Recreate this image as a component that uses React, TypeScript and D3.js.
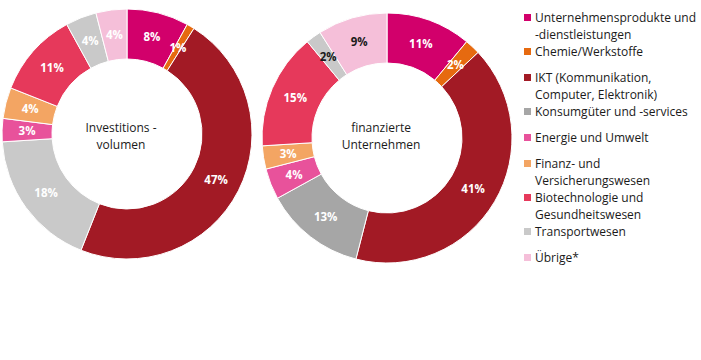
import { useEffect, useRef } from "react";
import * as d3 from "d3";

const categories = [
  "Unternehmensprodukte und -dienstleistungen",
  "Chemie/Werkstoffe",
  "IKT (Kommunikation, Computer, Elektronik)",
  "Konsumgüter und -services",
  "Energie und Umwelt",
  "Finanz- und Versicherungswesen",
  "Biotechnologie und Gesundheitswesen",
  "Transportwesen",
  "Übrige*",
];

const legendLines = [
  ["Unternehmensprodukte und", "-dienstleistungen"],
  ["Chemie/Werkstoffe"],
  ["IKT (Kommunikation,", "Computer, Elektronik)"],
  ["Konsumgüter und -services"],
  ["Energie und Umwelt"],
  ["Finanz- und", "Versicherungswesen"],
  ["Biotechnologie und", "Gesundheitswesen"],
  ["Transportwesen"],
  ["Übrige*"],
];

const colors = ["#d2006b", "#e66a10", "#a21a25", "#a6a6a6", "#e8529b", "#f3a563", "#e6395b", "#c9c9c9", "#f5bfd9"];
// left donut draws Konsumgüter in the light grey
const colorsInvest = ["#d2006b", "#e66a10", "#a21a25", "#c9c9c9", "#e8529b", "#f3a563", "#e6395b", "#c9c9c9", "#f5bfd9"];

const investVolume = [8, 1, 47, 18, 3, 4, 11, 4, 4];
const companies = [11, 2, 41, 13, 4, 3, 15, 2, 9];

const labelDarkInvest = [false, false, false, false, false, false, false, false, false];
const labelDarkCompanies = [false, false, false, false, false, false, false, true, true];

const FONT = "'Open Sans', sans-serif";

const App = () => {
  const ref = useRef<SVGSVGElement | null>(null);

  useEffect(() => {
    drawChart();
  }, []);

  const drawChart = () => {
    const svg = d3.select(ref.current);
    svg.selectAll("*").remove();

    const outerR = 125;
    const innerR = 75;

    const pie = d3
      .pie<number>()
      .sort(null)
      .value((d) => d);
    const arc = d3.arc<d3.PieArcDatum<number>>().innerRadius(innerR).outerRadius(outerR);

    const donuts = [
      { cx: 127, cy: 134, values: investVolume, fills: colorsInvest, dark: labelDarkInvest, title: ["Investitions -", "volumen"] },
      { cx: 387, cy: 138, values: companies, fills: colors, dark: labelDarkCompanies, title: ["finanzierte", "Unternehmen"] },
    ];
    const titleBaseline = 132;

    donuts.forEach((dn) => {
      const g = svg.append("g").attr("transform", `translate(${dn.cx},${dn.cy})`);
      const arcs = pie(dn.values);

      g.selectAll("path")
        .data(arcs)
        .join("path")
        .attr("d", arc)
        .attr("fill", (d, i) => dn.fills[i])
        .attr("stroke", "#fff")
        .attr("stroke-width", 1);

      g.selectAll("text.pct")
        .data(arcs)
        .join("text")
        .attr("class", "pct")
        .attr("transform", (d) => `translate(${arc.centroid(d)})`)
        .attr("text-anchor", "middle")
        .attr("dy", "0.36em")
        .style("font-family", FONT)
        .style("font-size", "11.5px")
        .style("font-weight", 700)
        .attr("fill", (d, i) => (dn.dark[i] ? "#1a1a1a" : "#fff"))
        .text((d) => `${d.data}%`);

      // Titel in der Mitte
      g.append("text")
        .attr("text-anchor", "middle")
        .style("font-family", FONT)
        .style("font-size", "12px")
        .attr("fill", "#1a1a1a")
        .selectAll("tspan")
        .data(dn.title)
        .join("tspan")
        .attr("x", -6)
        .attr("y", (d, i) => titleBaseline - dn.cy + i * 17)
        .text((d) => d);
    });

    // Legende
    const legend = svg.append("g").attr("transform", "translate(524,0)");
    let y = 18;
    categories.forEach((cat, i) => {
      const lines = legendLines[i];
      const item = legend.append("g").attr("transform", `translate(0,${y})`);
      item.append("rect").attr("x", 0).attr("y", -4).attr("width", 7).attr("height", 7).attr("fill", colors[i]);
      item
        .append("text")
        .style("font-family", FONT)
        .style("font-size", "12px")
        .attr("fill", "#1a1a1a")
        .selectAll("tspan")
        .data(lines)
        .join("tspan")
        .attr("x", 11)
        .attr("y", (d, j) => 4 + j * 16.5)
        .text((d) => d);
      y += lines.length === 2 ? 34 : 26;
    });
  };

  return (
    <svg
      ref={ref}
      width={701}
      height={360}
      style={{ position: "fixed", left: 0, top: 0, background: "#fff", display: "block" }}
    />
  );
};

export default App;
